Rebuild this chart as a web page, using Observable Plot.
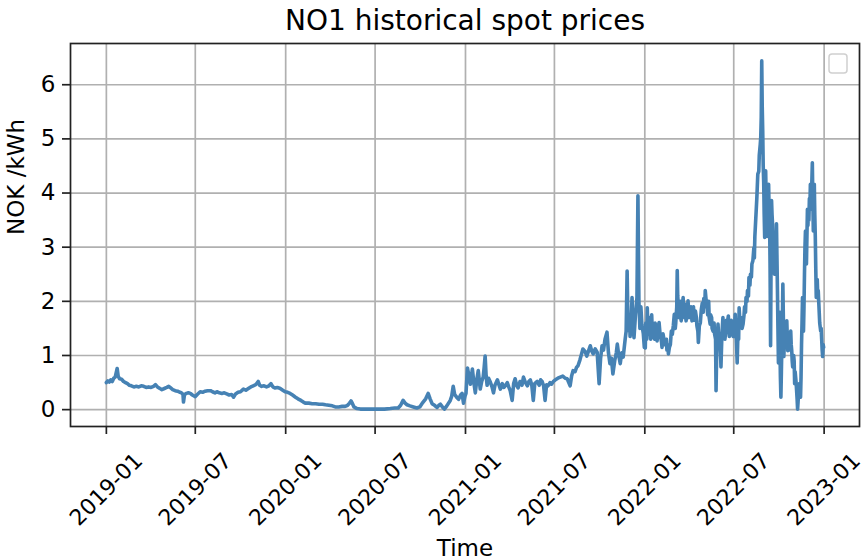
<!DOCTYPE html>
<html>
<head>
<meta charset="utf-8">
<script src="https://cdn.jsdelivr.net/npm/d3@7"></script>
<script src="https://cdn.jsdelivr.net/npm/@observablehq/plot@0.6"></script>
<style>
  html, body { margin: 0; padding: 0; background: #fff; }
  #chart svg { display: block; }
</style>
</head>
<body>
<div id="chart"></div>
<script>
// ---- Data (NOK/kWh) ----
const dates2019 = ["01-01","01-04","01-07","01-10","01-13","01-16","01-19","01-22","01-23","01-25","01-28","02-01","02-05","02-09","02-13","02-17","02-21","02-26","03-03","03-08","03-13","03-18","03-23","03-28","04-02","04-07","04-11","04-15","04-20","04-24","04-29","05-04","05-08","05-12","05-16","05-21","05-26","05-31","06-03","06-06","06-07","06-09","06-13","06-17","06-21","06-25","07-01","07-05","07-11","07-16","07-21","07-26","08-01","08-05","08-10","08-14","08-19","08-24","08-29","09-03","09-08","09-13","09-17","09-21","09-26","10-01","10-07","10-12","10-17","10-22","10-27","11-01","11-06","11-09","11-13","11-18","11-23","11-28","12-02","12-06","12-10","12-15","12-21","12-26","12-31"];
const prices2019 = [0.50,0.53,0.51,0.55,0.52,0.58,0.60,0.72,0.76,0.62,0.57,0.56,0.52,0.50,0.48,0.45,0.44,0.42,0.43,0.42,0.44,0.43,0.41,0.42,0.41,0.43,0.46,0.42,0.39,0.37,0.39,0.41,0.43,0.40,0.37,0.35,0.34,0.32,0.31,0.28,0.14,0.28,0.30,0.31,0.30,0.27,0.24,0.28,0.33,0.32,0.34,0.35,0.35,0.33,0.31,0.33,0.31,0.30,0.31,0.29,0.27,0.28,0.23,0.29,0.32,0.33,0.38,0.36,0.39,0.42,0.44,0.46,0.52,0.45,0.43,0.44,0.42,0.44,0.48,0.42,0.40,0.41,0.39,0.36,0.33];

const dates2020 = ["01-05","01-10","01-15","01-21","01-26","02-01","02-06","02-10","02-17","02-24","03-02","03-09","03-16","03-22","03-29","04-05","04-11","04-18","04-25","05-01","05-06","05-10","05-13","05-16","05-19","05-25","06-01","06-10","06-20","07-01","07-10","07-20","08-01","08-10","08-17","08-22","08-27","08-31","09-04","09-10","09-17","09-24","09-30","10-06","10-12","10-17","10-21","10-25","10-30","11-04","11-08","11-11","11-15","11-19","11-24","12-01","12-04","12-07","12-10","12-14","12-18","12-22","12-25","12-28","12-31"];
const prices2020 = [0.32,0.30,0.27,0.23,0.20,0.17,0.14,0.12,0.12,0.11,0.11,0.10,0.10,0.09,0.08,0.07,0.05,0.05,0.06,0.06,0.08,0.12,0.16,0.11,0.05,0.02,0.01,0.01,0.01,0.01,0.01,0.01,0.02,0.03,0.03,0.08,0.17,0.12,0.09,0.07,0.05,0.03,0.05,0.13,0.20,0.30,0.20,0.11,0.08,0.04,0.08,0.10,0.05,0.01,0.07,0.17,0.25,0.43,0.28,0.23,0.19,0.27,0.30,0.12,0.25];

const dates2021 = ["01-02","01-05","01-08","01-11","01-15","01-18","01-21","01-24","01-27","01-31","02-03","02-06","02-08","02-10","02-12","02-14","02-17","02-20","02-24","02-27","03-02","03-07","03-10","03-13","03-17","03-20","03-23","03-27","03-30","04-02","04-06","04-09","04-12","04-15","04-18","04-22","04-26","04-29","05-03","05-07","05-10","05-13","05-16","05-19","05-22","05-27","05-31","06-03","06-06","06-09","06-12","06-15","06-18","06-22","06-25","06-29","07-03","07-08","07-13","07-18","07-23","07-27","08-02","08-05","08-08","08-12","08-15","08-18","08-22","08-25","08-28","09-01","09-05","09-09","09-12","09-15","09-18","09-22","09-26","09-30","10-03","10-06","10-09","10-12","10-16","10-19","10-22","10-25","10-28","11-01","11-04","11-06","11-09","11-12","11-15","11-18","11-22","11-24","11-26","11-28","12-01","12-02","12-04","12-06","12-08","12-10","12-13","12-16","12-18","12-20","12-22","12-24","12-26","12-29","12-31"];
const prices2021 = [0.30,0.77,0.62,0.47,0.75,0.50,0.31,0.55,0.72,0.38,0.52,0.60,0.78,0.99,0.62,0.45,0.58,0.52,0.42,0.31,0.45,0.55,0.46,0.38,0.48,0.41,0.44,0.50,0.42,0.35,0.17,0.48,0.57,0.45,0.40,0.52,0.45,0.60,0.50,0.44,0.52,0.55,0.45,0.17,0.48,0.52,0.45,0.55,0.52,0.44,0.17,0.46,0.44,0.50,0.47,0.52,0.55,0.58,0.60,0.62,0.58,0.57,0.44,0.62,0.72,0.70,0.78,0.81,0.92,1.02,1.12,1.08,0.99,1.10,1.18,1.08,1.03,1.12,1.06,0.48,0.95,1.18,1.10,1.30,1.43,1.05,0.85,0.95,0.66,0.92,1.05,1.21,1.00,0.85,1.05,0.97,1.30,1.45,2.56,1.46,1.70,1.35,1.60,2.07,1.50,1.33,1.75,2.07,3.95,2.00,1.50,1.90,1.57,1.40,1.15];

const points2022 = [
  ["01-01",1.20],["01-02",1.14],["01-03",1.60],["01-04",1.50],["01-05",1.30],["01-06",1.88],["01-07",1.55],["01-09",1.40],["01-10",1.70],["01-12",1.45],
  ["01-13",1.30],["01-15",1.75],["01-16",1.50],["01-18",1.58],["01-19",1.35],["01-21",1.30],["01-22",1.60],["01-23",1.55],["01-25",1.40],["01-26",1.27],
  ["01-28",1.50],["01-30",1.61],["02-01",1.40],["02-02",1.35],["02-04",1.25],["02-05",1.15],["02-07",1.40],["02-08",1.35],["02-10",1.20],["02-12",1.24],
  ["02-14",1.30],["02-15",1.10],["02-17",1.20],["02-18",1.03],["02-20",1.15],["02-22",1.20],["02-24",1.45],["02-26",1.39],["02-28",1.55],["03-02",1.76],
  ["03-04",1.50],["03-05",1.60],["03-07",1.90],["03-08",2.57],["03-09",2.10],["03-10",1.96],["03-12",1.70],["03-13",1.80],["03-15",2.00],["03-16",1.64],
  ["03-18",1.85],["03-20",2.07],["03-21",1.75],["03-23",1.70],["03-24",1.95],["03-26",1.64],["03-28",1.80],["03-30",2.01],["04-01",1.70],["04-03",1.75],
  ["04-05",1.90],["04-07",1.64],["04-08",1.80],["04-10",1.90],["04-12",1.65],["04-14",1.82],["04-16",1.70],["04-17",1.55],["04-19",1.45],["04-20",1.24],
  ["04-22",1.55],["04-24",1.60],["04-26",1.85],["04-28",1.97],["04-30",1.80],["05-01",2.05],["05-03",1.90],["05-04",2.20],["05-06",2.00],["05-08",1.89],
  ["05-09",1.75],["05-11",2.00],["05-12",1.70],["05-14",1.58],["05-15",1.75],["05-17",1.70],["05-18",1.50],["05-20",1.45],["05-22",1.60],["05-23",1.40],
  ["05-25",1.30],["05-26",0.35],["05-27",0.90],["05-28",1.20],["05-30",1.58],["05-31",1.40],["06-02",1.30],["06-04",1.10],["06-05",0.79],["06-06",1.10],
  ["06-07",1.40],["06-09",1.70],["06-10",1.45],["06-12",1.50],["06-13",1.30],["06-15",1.45],["06-16",1.65],["06-18",1.60],["06-20",1.73],["06-22",1.35],
  ["06-24",1.40],["06-26",1.65],["06-28",1.58],["06-30",1.35],["07-01",1.50],["07-03",1.60],["07-04",1.76],["07-05",1.50],["07-06",1.40],["07-08",0.86],
  ["07-09",1.20],["07-10",1.50],["07-11",1.30],["07-12",1.88],["07-14",1.55],["07-16",1.70],["07-18",1.50],["07-20",1.58],["07-22",1.75],["07-23",1.90],
  ["07-25",1.80],["07-26",2.07],["07-28",2.00],["07-29",2.20],["07-31",2.10],["08-01",2.44],["08-03",2.30],["08-04",2.50],["08-06",2.45],["08-07",2.69],
  ["08-09",2.75],["08-11",2.99],["08-12",2.80],["08-13",3.20],["08-15",3.55],["08-17",3.90],["08-19",4.35],["08-21",4.40],["08-22",4.70],["08-24",4.90],
  ["08-25",5.03],["08-26",5.40],["08-27",6.44],["08-28",5.60],["08-29",5.15],["08-30",4.50],["08-31",4.20],["09-01",3.60],["09-02",3.18],["09-03",3.90],
  ["09-04",4.41],["09-05",3.90],["09-06",3.55],["09-07",3.20],["09-08",3.80],["09-09",3.50],["09-10",4.16],["09-11",3.70],["09-12",3.55],["09-13",2.60],
  ["09-14",1.18],["09-15",2.80],["09-16",3.86],["09-17",3.60],["09-18",3.43],["09-19",2.90],["09-21",3.00],["09-22",2.50],["09-24",2.69],["09-25",3.10],
  ["09-26",3.43],["09-27",2.80],["09-28",2.20],["09-29",1.50],["09-30",0.86],["10-01",1.30],["10-02",1.80],["10-03",1.20],["10-04",0.60],["10-05",0.23],
  ["10-06",0.70],["10-07",1.20],["10-08",1.60],["10-09",2.32],["10-10",1.70],["10-11",0.98],["10-12",1.25],["10-14",1.50],["10-15",1.20],["10-17",1.64],
  ["10-18",1.35],["10-19",1.09],["10-20",1.30],["10-22",1.30],["10-23",1.10],["10-25",1.45],["10-26",1.20],["10-27",1.10],["10-28",0.90],["10-29",0.79],
  ["10-31",1.00],["11-01",0.90],["11-02",0.48],["11-03",0.70],["11-04",0.60],["11-05",0.50],["11-06",0.35],["11-07",0.20],["11-08",0.01],["11-09",0.15],
  ["11-10",0.30],["11-11",0.45],["11-12",0.48],["11-13",0.35],["11-14",0.23],["11-15",0.60],["11-16",1.20],["11-17",1.60],["11-18",2.07],["11-19",1.80],
  ["11-20",1.45],["11-21",1.90],["11-22",2.50],["11-23",3.00],["11-24",3.30],["11-25",3.10],["11-26",2.69],["11-27",3.20],["11-28",3.70],["11-29",3.40],
  ["11-30",3.61],["12-01",3.50],["12-02",3.90],["12-03",3.70],["12-04",4.16],["12-05",3.90],["12-06",3.80],["12-07",4.20],["12-08",4.56],["12-09",3.90],
  ["12-10",3.30],["12-11",3.80],["12-12",4.16],["12-13",3.60],["12-14",3.20],["12-15",2.60],["12-16",2.07],["12-17",2.20],["12-18",2.40],["12-19",2.10],
  ["12-20",2.20],["12-21",2.00],["12-22",1.80],["12-23",1.60],["12-25",1.45],["12-26",1.50],["12-27",1.30],["12-28",1.10],["12-29",0.98],["12-30",1.20],
  ["12-31",1.15]
];

const xTickLabels = ["2019-01","2019-07","2020-01","2020-07","2021-01","2021-07","2022-01","2022-07","2023-01"];
const yTickValues = [0, 1, 2, 3, 4, 5, 6];

const titleText = "NO1 historical spot prices";
const xLabel = "Time";
const yLabel = "NOK /kWh";

// ---- Build table ----
const series = [
  [2019, dates2019, prices2019],
  [2020, dates2020, prices2020],
  [2021, dates2021, prices2021],
  [2022, points2022.map(p => p[0]), points2022.map(p => p[1])]
];
const data = [];
for (const [yr, ds, ps] of series) {
  ds.forEach((d, i) => data.push({date: new Date(`${yr}-${d}T00:00:00Z`), price: ps[i]}));
}
const xTicks = xTickLabels.map(s => new Date(`${s}-01T00:00:00Z`));

// matplotlib-like 5% margins
const [t0, t1] = d3.extent(data, d => d.date);
const tPad = (t1 - t0) * 0.05;
const [v0, v1] = d3.extent(data, d => d.price);
const vPad = (v1 - v0) * 0.05;

const FONT = "DejaVu Sans, sans-serif";
const fmt = d3.utcFormat("%Y-%m");

const chart = Plot.plot({
  width: 862,
  height: 560,
  marginLeft: 70,
  marginRight: 3,
  marginTop: 43,
  marginBottom: 134,
  style: {fontFamily: FONT, background: "#fff", color: "#000"},
  x: {type: "utc", domain: [new Date(+t0 - tPad), new Date(+t1 + tPad)]},
  y: {domain: [v0 - vPad, v1 + vPad]},
  marks: [
    Plot.gridX(xTicks, {stroke: "#b0b0b0", strokeOpacity: 1, strokeWidth: 1.7}),
    Plot.gridY(yTickValues, {stroke: "#b0b0b0", strokeOpacity: 1, strokeWidth: 1.7}),
    Plot.line(data, {x: "date", y: "price", stroke: "steelblue", strokeWidth: 3.6, strokeLinejoin: "round"}),
    Plot.frame({stroke: "#222", strokeWidth: 1.7}),
    Plot.axisY(yTickValues, {tickSize: 8, tickPadding: 7, fontSize: 23, tickFormat: d3.format("d"), label: null, stroke: "#222", strokeWidth: 1.7}),
    Plot.axisX(xTicks, {tickSize: 8, tickFormat: () => "", label: null, stroke: "#222", strokeWidth: 1.7}),
    Plot.text(xTicks, {x: d => d, frameAnchor: "bottom", text: d => fmt(d), rotate: -45, textAnchor: "middle", lineAnchor: "middle", dy: 63, fontSize: 22, fill: "#000"}),
    Plot.text([xLabel], {frameAnchor: "bottom", text: d => d, dy: 122, lineAnchor: "middle", fontSize: 23, fill: "#000"}),
    Plot.text([yLabel], {frameAnchor: "left", text: d => d, rotate: -90, dx: -54, lineAnchor: "middle", fontSize: 23, fill: "#000"}),
    Plot.text([titleText], {frameAnchor: "top", text: d => d, dy: -22, lineAnchor: "middle", fontSize: 28, fill: "#000"})
  ]
});

// empty matplotlib legend box (top-right inside the axes)
const svg = d3.select(chart);
const fr = {right: 862 - 3, top: 43};
svg.append("rect")
  .attr("x", fr.right - 30).attr("y", fr.top + 11)
  .attr("width", 18).attr("height", 19)
  .attr("rx", 3)
  .attr("fill", "#fff").attr("fill-opacity", 0.8)
  .attr("stroke", "#d0d0d0").attr("stroke-width", 1.5);

document.getElementById("chart").appendChild(chart);
</script>
</body>
</html>
